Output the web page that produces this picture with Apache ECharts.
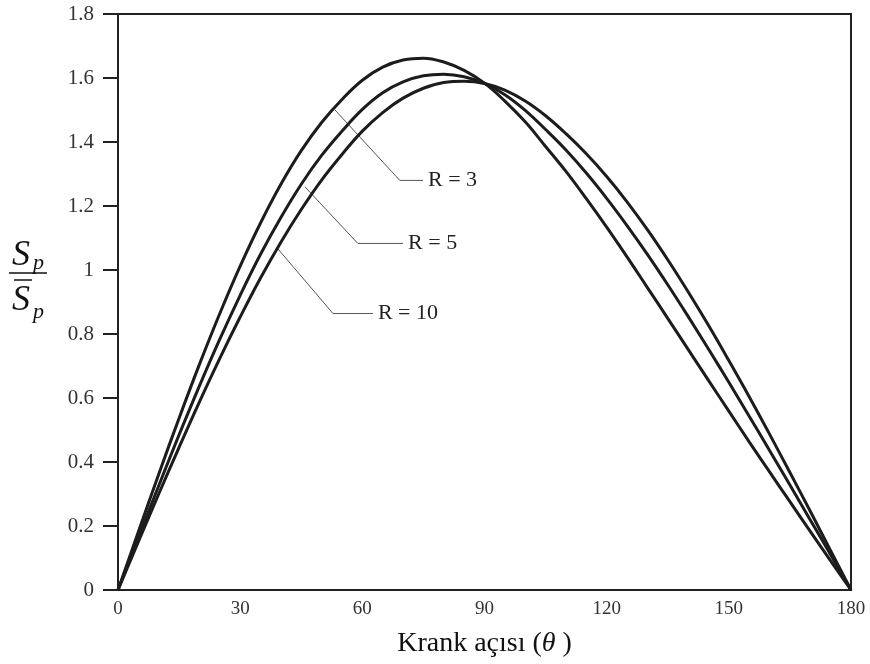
<!DOCTYPE html>
<html>
<head>
<meta charset="utf-8">
<title>Krank açısı</title>
<script src="https://cdn.jsdelivr.net/npm/echarts@6/dist/echarts.min.js"></script>
<style>
  html, body { margin: 0; padding: 0; background: #fff; }
  #container { width: 870px; height: 664px; }
</style>
</head>
<body>
<div id="container"></div>
<script type="text/javascript">
    // crank angle (deg), every 5 degrees
    var angles = [0, 5, 10, 15, 20, 25, 30, 35, 40, 45, 50, 55, 60, 65, 70, 75, 80, 85, 90,
                  95, 100, 105, 110, 115, 120, 125, 130, 135, 140, 145, 150, 155, 160, 165, 170, 175, 180];
    // Sp / mean Sp
    var r3 = [0, 0.182, 0.362, 0.537, 0.705, 0.864, 1.012, 1.147, 1.268, 1.373, 1.461, 1.533, 1.593, 1.634, 1.656, 1.662, 1.650, 1.624, 1.584,
              1.528, 1.463, 1.386, 1.308, 1.223, 1.134, 1.041, 0.945, 0.849, 0.752, 0.655, 0.559, 0.463, 0.369, 0.276, 0.183, 0.091, 0];
    var r5 = [0, 0.164, 0.326, 0.485, 0.638, 0.784, 0.921, 1.049, 1.164, 1.268, 1.358, 1.434, 1.502, 1.554, 1.588, 1.607, 1.612, 1.604, 1.583,
              1.548, 1.499, 1.439, 1.375, 1.303, 1.224, 1.139, 1.049, 0.954, 0.855, 0.753, 0.649, 0.543, 0.436, 0.328, 0.219, 0.110, 0];
    var r10 = [0, 0.151, 0.300, 0.446, 0.588, 0.724, 0.853, 0.975, 1.087, 1.189, 1.281, 1.361, 1.434, 1.492, 1.537, 1.568, 1.586, 1.590, 1.583,
               1.562, 1.528, 1.482, 1.426, 1.363, 1.292, 1.213, 1.126, 1.032, 0.932, 0.827, 0.717, 0.604, 0.487, 0.367, 0.246, 0.123, 0];
    var xTicks = [0, 30, 60, 90, 120, 150, 180];

    // leader lines for the curve labels: [angle, value]
    var lead3 = [[53.3, 1.50], [69.2, 1.28], [74.9, 1.28]];
    var lead5 = [[45.9, 1.26], [58.9, 1.083], [70.0, 1.083]];
    var lead10 = [[39.0, 1.07], [52.8, 0.864], [62.6, 0.864]];

    function pairs(ys) {
        var out = [];
        for (var i = 0; i < angles.length; i++) out.push([angles[i], ys[i]]);
        return out;
    }

    var serif = '"Liberation Serif", "DejaVu Serif", serif';

    var dom = document.getElementById('container');
    var myChart = echarts.init(dom, null, { renderer: 'canvas' });

    function curve(name, ys) {
        return {
            name: name,
            type: 'line',
            data: pairs(ys),
            smooth: 0.4,
            showSymbol: false,
            silent: true,
            lineStyle: { color: '#1c1c1c', width: 3 },
            z: 3
        };
    }

    function leader(text, pts) {
        return {
            type: 'line',
            data: pts,
            showSymbol: false,
            silent: true,
            lineStyle: { color: '#555', width: 1 },
            endLabel: {
                show: true,
                formatter: text,
                fontFamily: serif,
                fontSize: 22,
                color: '#222',
                distance: 5
            },
            z: 2
        };
    }

    var option = {
        animation: false,
        backgroundColor: '#fff',
        grid: {
            left: 118, right: 19, top: 14, bottom: 74,
            show: true, borderColor: '#222', borderWidth: 2
        },
        xAxis: {
            type: 'value',
            min: 0, max: 180, interval: 30,
            axisLine: { show: true, lineStyle: { color: '#222', width: 2 } },
            axisTick: { show: false },
            splitLine: { show: false },
            axisLabel: {
                color: '#333', fontFamily: serif, fontSize: 19, margin: 10,
                customValues: xTicks
            },
            name: '{a|Krank açısı (}{b|θ}{a| )}',
            nameLocation: 'middle',
            nameGap: 40,
            nameTextStyle: {
                rich: {
                    a: { fontFamily: serif, fontSize: 28, color: '#111' },
                    b: { fontFamily: serif, fontSize: 28, fontStyle: 'italic', color: '#111' }
                }
            }
        },
        yAxis: {
            type: 'value',
            min: 0, max: 1.8, interval: 0.2,
            axisLine: { show: true, lineStyle: { color: '#222', width: 2 } },
            axisTick: { show: true, length: 15, lineStyle: { color: '#222', width: 2 } },
            splitLine: { show: false },
            axisLabel: { color: '#333', fontFamily: serif, fontSize: 21, margin: 24 }
        },
        graphic: [
            { type: 'text', left: 12, top: 238, style: { text: 'S', font: 'italic 36px ' + serif, fill: '#111' } },
            { type: 'text', left: 33, top: 252, style: { text: 'p', font: 'italic 22px ' + serif, fill: '#111' } },
            { type: 'line', shape: { x1: 9, y1: 273, x2: 47, y2: 273 }, style: { stroke: '#111', lineWidth: 1.5 } },
            { type: 'line', shape: { x1: 14, y1: 280, x2: 32, y2: 280 }, style: { stroke: '#111', lineWidth: 1.5 } },
            { type: 'text', left: 12, top: 283, style: { text: 'S', font: 'italic 36px ' + serif, fill: '#111' } },
            { type: 'text', left: 33, top: 301, style: { text: 'p', font: 'italic 22px ' + serif, fill: '#111' } }
        ],
        series: [
            curve('R = 3', r3),
            curve('R = 5', r5),
            curve('R = 10', r10),
            leader('R = 3', lead3),
            leader('R = 5', lead5),
            leader('R = 10', lead10)
        ]
    };

    myChart.setOption(option);
    window.addEventListener('resize', myChart.resize);
</script>
</body>
</html>
